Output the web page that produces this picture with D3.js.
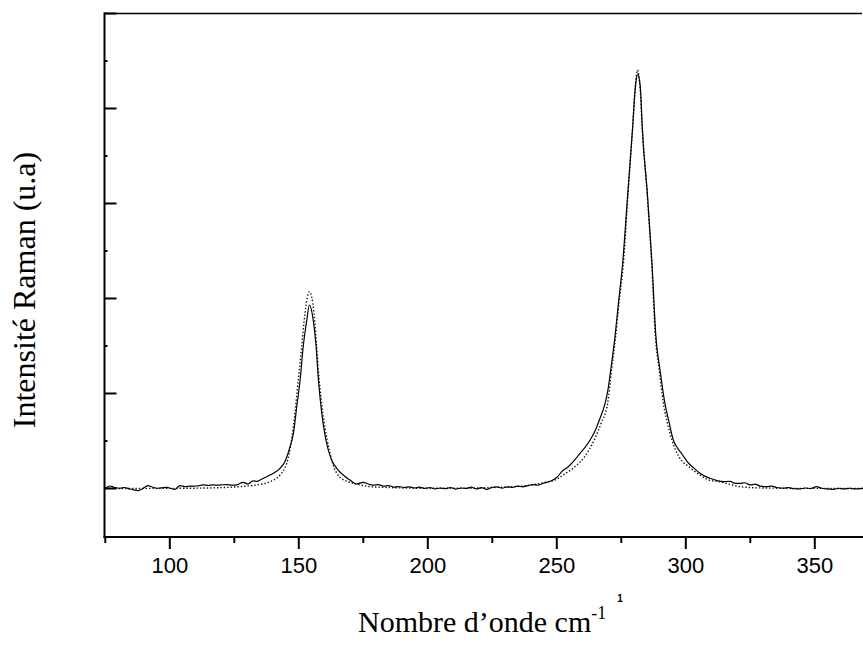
<!DOCTYPE html>
<html><head><meta charset="utf-8">
<script src="https://cdn.jsdelivr.net/npm/d3@7/dist/d3.min.js"></script>
<style>
html,body{margin:0;padding:0;background:#fff;}
svg{display:block;}
</style></head>
<body>
<svg id="chart" width="863" height="650"></svg>
<script>
// ---- data ----
const xMajorTicks = [100, 150, 200, 250, 300, 350];
const xMinorTicks = [75, 125, 175, 225, 275, 325, 375];
const yMajorTicks = [0, 1, 2, 3, 4, 5];
const yMinorTicks = [0.5, 1.5, 2.5, 3.5, 4.5];

const measuredShift = [75.1,76.0,77.0,78.5,80.9,82.5,84.8,86.3,87.9,89.5,91.7,93.4,95.2,97.0,99.1,100.6,102.2,104.1,106.0,108.2,110.7,113.0,115.0,116.9,119.0,120.8,122.4,124.3,126.2,128.6,130.5,132.4,134.0,135.2,137.8,140.3,142.9,144.8,146.8,148.1,149.4,150.7,151.9,153.3,154.3,155.6,156.9,157.8,159.1,160.7,162.9,164.9,167.4,170.0,172.6,175.2,177.1,179,181,183,185,187,189,191,193,195,197,199,201,203,205,207,209,211,213,215,217,219,221,223,225,227,229,231,233,235,237,239,241,243,245,247,249,250.5,252.1,254.65,257.0,259.2,261.2,263.1,265.0,266.7,268.9,270.0,271.1,272.75,274.1,275.7,277.7,279.6,280.5,281.0,281.6,282.2,282.7,283.3,285.3,287.1,288.6,290.2,292.1,293.5,295.35,297.0,298.9,301.0,303.1,305.7,307.5,309.6,312.0,314.7,317.5,319.0,321.2,323.0,325.1,327.0,329.0,331.6,333.5,335.5,338.0,340.0,342.0,344.5,346.5,348.5,350.9,352.5,354.5,357.4,359.5,361.5,363.8,366.0,368.9,370.5];
const measuredIntensity = [-0.003,0.01,0.021,0.008,-0.003,0.005,-0.011,-0.02,-0.028,-0.01,0.024,0.01,-0.003,0.002,0.007,-0.005,-0.014,0.024,0.015,0.02,0.021,0.032,0.028,0.032,0.03,0.034,0.035,0.03,0.032,0.06,0.042,0.074,0.07,0.084,0.119,0.155,0.207,0.277,0.435,0.575,0.856,1.137,1.487,1.768,1.926,1.80,1.487,1.137,0.786,0.505,0.295,0.207,0.137,0.084,0.042,0.06,0.042,0.03,0.035,0.02,0.025,0.01,0.015,0.005,0.012,0.0,0.008,-0.005,0.005,-0.01,0.0,-0.008,0.005,-0.012,0.0,-0.005,0.008,-0.01,0.003,-0.015,0.005,0.012,-0.003,0.012,0.005,0.02,0.012,0.025,0.035,0.03,0.05,0.065,0.09,0.12,0.172,0.224,0.29,0.365,0.43,0.505,0.6,0.716,0.89,1.03,1.242,1.593,1.95,2.36,3.10,3.80,4.17,4.30,4.358,4.30,4.17,3.80,3.10,2.36,1.593,1.242,0.89,0.716,0.505,0.42,0.35,0.27,0.215,0.155,0.125,0.102,0.08,0.066,0.07,0.052,0.049,0.055,0.032,0.04,0.02,0.014,0.02,0.005,-0.003,0.005,-0.008,-0.01,0.0,-0.006,0.014,0.0,-0.01,-0.014,-0.003,-0.01,-0.003,-0.01,-0.005,-0.004];

const fitShift = [75,100,115,125,130,133.9,139.0,142.9,145.5,147.4,148.7,150.0,151.3,152.6,153.5,154.3,155.2,156.1,157.1,158.1,159.5,161.2,163.3,165.9,169.4,173.9,177.8,185,200,215,225,232,240,246,250,252.7,257.2,261.0,264.7,267.5,269.9,271.4,273.0,274.3,276.0,277.8,279.6,280.5,281.0,281.5,282.0,282.5,283.3,285.2,287.0,288.4,289.9,291.5,293.0,294.8,297.5,301.4,305.7,309.1,313.4,317.0,321.2,330,345,370.5];
const fitIntensity = [-0.005,-0.004,0.0,0.01,0.02,0.032,0.066,0.137,0.26,0.505,0.79,1.137,1.487,1.84,2.01,2.066,2.01,1.84,1.487,1.137,0.79,0.505,0.26,0.119,0.066,0.032,0.014,0.005,-0.003,-0.003,0.005,0.012,0.03,0.06,0.09,0.137,0.224,0.33,0.505,0.69,0.89,1.242,1.593,1.95,2.36,3.10,3.80,4.20,4.34,4.40,4.34,4.20,3.80,3.10,2.36,1.593,1.242,0.89,0.69,0.505,0.33,0.224,0.137,0.084,0.066,0.04,0.014,0.0,-0.004,-0.005];

const xTitle = "Nombre d\u2019onde cm";
const xTitleSup = "-1";
const yTitle = "Intensité Raman (u.a)";

// ---- drawing ----
const svg = d3.select("#chart");
const x = d3.scaleLinear().domain([75, 375]).range([104.8, 878.8]);
const y = d3.scaleLinear().domain([-0.516, 5]).range([537, 13]);

const measured = measuredShift.map((s, i) => [s, measuredIntensity[i]]);
const fit = fitShift.map((s, i) => [s, fitIntensity[i]]);

const line = d3.line().x(d => x(d[0])).y(d => y(d[1])).curve(d3.curveMonotoneX);

svg.append("defs").append("clipPath").attr("id", "plotclip")
  .append("rect").attr("x", 104).attr("y", 13).attr("width", 760).attr("height", 524);

const plot = svg.append("g").attr("clip-path", "url(#plotclip)");
plot.append("path").datum(fit).attr("d", line)
  .attr("fill", "none").attr("stroke", "#111").attr("stroke-width", 1.4)
  .attr("stroke-dasharray", "1.4,2");
plot.append("path").datum(measured).attr("d", line)
  .attr("fill", "none").attr("stroke", "#000").attr("stroke-width", 1.2);

// top frame line
svg.append("line").attr("x1", 104).attr("x2", 862).attr("y1", 13.5).attr("y2", 13.5)
  .attr("stroke", "#000").attr("stroke-width", 1.3);

// x axis
const xAxisMajor = d3.axisBottom(x).tickValues(xMajorTicks).tickSize(12).tickPadding(8).tickFormat(d3.format("d"));
const gx = svg.append("g").attr("transform", "translate(0,537)").call(xAxisMajor);
gx.select(".domain").remove();
gx.selectAll(".tick line").attr("stroke", "#000").attr("stroke-width", 2);
gx.selectAll(".tick text").attr("font-family", "'Liberation Sans', Arial, sans-serif").attr("font-size", 22).attr("fill", "#000");

const xAxisMinor = d3.axisBottom(x).tickValues(xMinorTicks).tickSize(6).tickFormat("");
const gxm = svg.append("g").attr("transform", "translate(0,537)").call(xAxisMinor);
gxm.select(".domain").remove();
gxm.selectAll(".tick line").attr("stroke", "#000").attr("stroke-width", 2);

svg.append("line").attr("x1", 103.5).attr("x2", 863).attr("y1", 537).attr("y2", 537)
  .attr("stroke", "#000").attr("stroke-width", 2);

// y axis (ticks inward)
const yAxisMajor = d3.axisLeft(y).tickValues(yMajorTicks).tickSize(-12).tickFormat("");
const gy = svg.append("g").attr("transform", "translate(104.5,0)").call(yAxisMajor);
gy.select(".domain").remove();
gy.selectAll(".tick line").attr("stroke", "#000").attr("stroke-width", 2);
const yAxisMinor = d3.axisLeft(y).tickValues(yMinorTicks).tickSize(-3).tickFormat("");
const gym = svg.append("g").attr("transform", "translate(104.5,0)").call(yAxisMinor);
gym.select(".domain").remove();
gym.selectAll(".tick line").attr("stroke", "#000").attr("stroke-width", 2);

svg.append("line").attr("x1", 104.5).attr("x2", 104.5).attr("y1", 12.5).attr("y2", 538)
  .attr("stroke", "#000").attr("stroke-width", 2);

// titles
const xt = svg.append("text").attr("x", 358).attr("y", 632)
  .attr("font-family", "'Liberation Serif', 'Times New Roman', serif").attr("font-size", 30).attr("fill", "#000");
xt.append("tspan").text(xTitle);
xt.append("tspan").attr("font-size", 18).attr("dy", -13).text(xTitleSup);

svg.append("text").attr("x", 620).attr("y", 602).attr("text-anchor", "middle")
  .attr("font-family", "'Liberation Sans', Arial, sans-serif").attr("font-size", 10).attr("font-weight", "bold").attr("fill", "#000").text("1");

svg.append("text").attr("transform", "translate(35,290) rotate(-90)").attr("text-anchor", "middle")
  .attr("font-family", "'Liberation Serif', 'Times New Roman', serif").attr("font-size", 32).attr("fill", "#000")
  .text(yTitle);
</script>
</body></html>
